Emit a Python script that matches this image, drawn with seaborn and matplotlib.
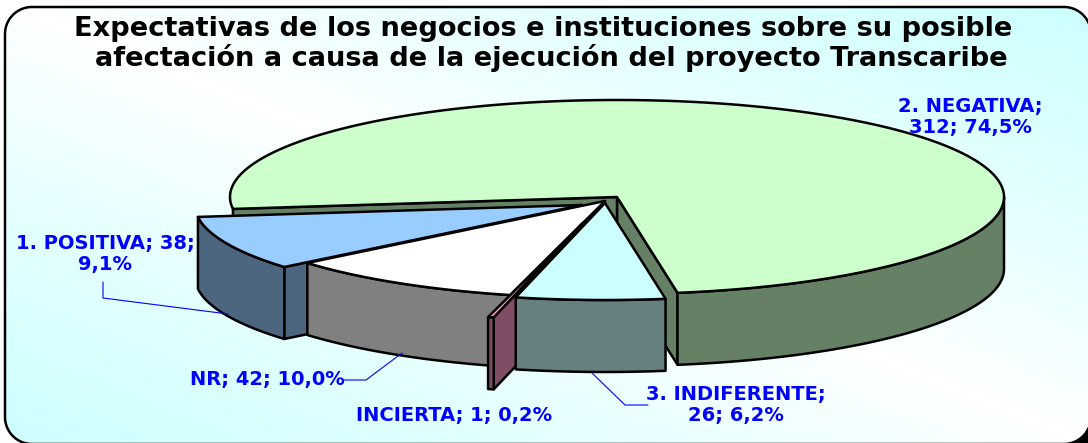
import numpy as np
import matplotlib
matplotlib.use("Agg")
import matplotlib.pyplot as plt
from matplotlib.patches import Polygon
from matplotlib.colors import LinearSegmentedColormap
import seaborn as sns

# Data
categories = ["2. NEGATIVA", "1. POSITIVA", "NR", "INCIERTA", "3. INDIFERENTE"]
counts = [312, 38, 42, 1, 26]
percent_labels = ["74,5%", "9,1%", "10,0%", "0,2%", "6,2%"]
top_colors = ["#CCFFCC", "#99CCFF", "#FFFFFF", "#FF99CC", "#CCFFFF"]
title_lines = ["Expectativas de los negocios e instituciones sobre su posible",
               "afectación a causa de la ejecución del proyecto Transcaribe"]

# Pie layout in picture pixels
start_angle = -81
rx, ry, depth = 387, 97, 72
apex_x = [617, 582, 605, 583, 605]
apex_y = [197, 205, 201, 223, 203]

sns.set_theme(style="white")
plt.rcParams["font.family"] = ["DejaVu Sans"]

fig = plt.figure(figsize=(10.88, 4.43), dpi=100)
ax = fig.add_axes([0, 0, 1, 1])


def corner(cx, cy, a0, a1, r=27):
    t = np.radians(np.linspace(a0, a1, 30))
    return np.column_stack([cx + r * np.cos(t), cy + r * np.sin(t)])


# Box with the diagonal gradient, its right and bottom edges run off the picture
box = Polygon(np.vstack([corner(32, 34, 180, 270), corner(1064, 34, 270, 360),
                         corner(1064, 417, 0, 90), corner(32, 417, 90, 180)]),
              closed=True, fc="none", ec="black", lw=1.8, zorder=5)
ax.add_patch(box)
xx, yy = np.meshgrid(np.linspace(0, 1, 300), np.linspace(0, 1, 150))
cmap = LinearSegmentedColormap.from_list("bg", ["#FFFFFF", "#CCFFFF"])
im = ax.imshow(np.abs(xx - yy) ** 0.9, cmap=cmap, vmin=0, vmax=1, aspect="auto",
               extent=(0, 1088, 443, 0), zorder=0)
im.set_clip_path(box)
ax.set_xlim(0, 1088)
ax.set_ylim(443, 0)
ax.axis("off")

# Black wedge in the lower right corner
wedge = np.vstack([corner(1064, 417, 0, 90), [1091, 444]])
ax.fill(wedge[:, 0], wedge[:, 1], color="black", zorder=5)


def arc(cx, cy, a0, a1):
    t = np.radians(np.linspace(a0, a1, max(int(abs(a1 - a0)) * 2, 6)))
    return np.column_stack([cx + rx * np.cos(t), cy - ry * np.sin(t)])


def draw_shape(pts, color):
    ax.fill(pts[:, 0], pts[:, 1], facecolor=color, edgecolor="black", lw=1.8,
            joinstyle="round", zorder=2)


def cut_wall(cx, cy, angle, color):
    edge = arc(cx, cy, angle, angle + 0.01)[0]
    draw_shape(np.array([[cx, cy], edge, edge + [0, depth], [cx, cy + depth]]), color)


def outer_wall(cx, cy, a0, a1, color):
    top = arc(cx, cy, a0, a1)
    draw_shape(np.vstack([top, top[::-1] + [0, depth]]), color)


total = sum(counts)
sweeps = [c / total * 360 for c in counts]
starts = start_angle + np.concatenate([[0], np.cumsum(sweeps)[:-1]])
palette = sns.color_palette(top_colors)
walls = [tuple(np.array(c) * 0.5) for c in palette]

# Slices in the order they overlap each other
for i, (a0, sweep) in enumerate(zip(starts, sweeps)):
    a1 = a0 + sweep
    cx, cy = apex_x[i], apex_y[i]
    if i == 0:
        cut_wall(cx, cy, a0, walls[i])
        cut_wall(cx, cy, a1, walls[i])
        outer_wall(cx, cy, a0, 0, walls[i])
    elif i == 1 or i == 2 or i == 3:
        cut_wall(cx, cy, a1, walls[i])
        outer_wall(cx, cy, a0, a1, walls[i])
    else:
        outer_wall(cx, cy, a0, a1, walls[i])
    draw_shape(np.vstack([[cx, cy], arc(cx, cy, a0, a1)]), palette[i])

# Leader lines
ax.plot([103, 103, 228], [282, 298, 314], color="#0000FF", lw=0.8, zorder=3)
ax.plot([343, 366, 402], [380, 380, 353], color="#0000FF", lw=0.8, zorder=3)
ax.plot([592, 625, 648], [373, 405, 405], color="#0000FF", lw=0.8, zorder=3)

# Title and data labels
for y, x, line in zip([29, 58], [543, 551], title_lines):
    ax.text(x, y, line, ha="center", va="center", fontsize=19.6, fontweight="bold",
            color="black", zorder=6)

label_style = dict(ha="center", va="center", fontsize=14, fontweight="bold",
                   color="#0000FF", zorder=6, linespacing=1.1)
ax.text(970, 117, f"{categories[0]};\n{counts[0]}; {percent_labels[0]}", **label_style)
ax.text(105, 254, f"{categories[1]}; {counts[1]};\n{percent_labels[1]}", **label_style)
ax.text(267, 380, f"{categories[2]}; {counts[2]}; {percent_labels[2]}", **label_style)
ax.text(454, 416, f"{categories[3]}; {counts[3]}; {percent_labels[3]}", **label_style)
ax.text(736, 405, f"{categories[4]};\n{counts[4]}; {percent_labels[4]}", **label_style)

fig.savefig("out.png", dpi=100)
